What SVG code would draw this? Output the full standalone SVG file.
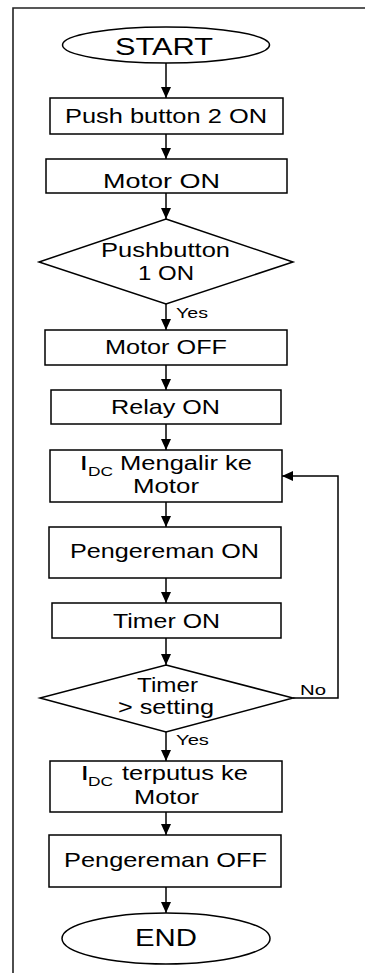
<svg xmlns="http://www.w3.org/2000/svg" width="365" height="973" viewBox="0 0 365 973">
<style>
.s{fill:#fff;stroke:#000;stroke-width:1.5}
.t{font-family:"Liberation Sans",Arial,sans-serif;font-size:21px;fill:#000}
.m{font-family:"Liberation Sans",Arial,sans-serif;font-size:20px;fill:#000}
.e{font-family:"Liberation Sans",Arial,sans-serif;font-size:23px;fill:#000}
.l{font-family:"Liberation Sans",Arial,sans-serif;font-size:15px;fill:#000}
.sub{font-family:"Liberation Sans",Arial,sans-serif;font-size:13px;fill:#000}
.b{font-family:"Liberation Sans",Arial,sans-serif;font-size:20px;font-weight:bold;fill:#000}
.c{fill:none;stroke:#000;stroke-width:1.5}
</style>
<defs>
<marker id="ah" markerUnits="userSpaceOnUse" markerWidth="12" markerHeight="10" refX="11" refY="5" orient="auto">
<path d="M0,0 L11,5 L0,10 Z" fill="#000"/>
</marker>
</defs>
<rect width="365" height="973" fill="#fff"/>
<path d="M13,973 V8 H365" fill="none" stroke="#222" stroke-width="1.6"/>

<g id="connectors">
<path class="c" d="M166,63 V98" marker-end="url(#ah)"/>
<path class="c" d="M166,134 V159" marker-end="url(#ah)"/>
<path class="c" d="M166,193 V219" marker-end="url(#ah)"/>
<path class="c" d="M166,304 V330" marker-end="url(#ah)"/>
<path class="c" d="M166,365 V390" marker-end="url(#ah)"/>
<path class="c" d="M166,424 V450" marker-end="url(#ah)"/>
<path class="c" d="M166,502 V527" marker-end="url(#ah)"/>
<path class="c" d="M166,578 V603" marker-end="url(#ah)"/>
<path class="c" d="M166,638 V665" marker-end="url(#ah)"/>
<path class="c" d="M166,732 V761" marker-end="url(#ah)"/>
<path class="c" d="M166,812 V835" marker-end="url(#ah)"/>
<path class="c" d="M166,887 V913" marker-end="url(#ah)"/>
<path class="c" d="M293,698 H338 V476 H282" marker-end="url(#ah)"/>
<text class="l" x="176" y="318" textLength="32" lengthAdjust="spacingAndGlyphs">Yes</text>
<text class="l" x="176" y="745" textLength="33" lengthAdjust="spacingAndGlyphs">Yes</text>
<text class="l" x="300" y="695" textLength="26" lengthAdjust="spacingAndGlyphs">No</text>
</g>

<g id="start">
<ellipse class="s" cx="166" cy="45" rx="103.5" ry="18"/>
<text class="e" x="115" y="55" textLength="98" lengthAdjust="spacingAndGlyphs">START</text>
</g>
<g id="pb2">
<rect class="s" x="50" y="98" width="233" height="36"/>
<text class="t" x="65" y="123" textLength="202" lengthAdjust="spacingAndGlyphs">Push button 2 ON</text>
</g>
<g id="motoron">
<rect class="s" x="46" y="159" width="241" height="34"/>
<text class="t" x="103" y="188" textLength="117" lengthAdjust="spacingAndGlyphs">Motor ON</text>
</g>
<g id="pb1">
<polygon class="s" points="166,219 293,262 166,304 39,262"/>
<text class="m" x="101" y="257" textLength="129" lengthAdjust="spacingAndGlyphs">Pushbutton</text>
<text class="m" x="138" y="280" textLength="56" lengthAdjust="spacingAndGlyphs">1 ON</text>
</g>
<g id="motoroff">
<rect class="s" x="45" y="330" width="242" height="35"/>
<text class="t" x="105" y="354" textLength="122" lengthAdjust="spacingAndGlyphs">Motor OFF</text>
</g>
<g id="relay">
<rect class="s" x="51" y="390" width="230" height="34"/>
<text class="t" x="111" y="414" textLength="109" lengthAdjust="spacingAndGlyphs">Relay ON</text>
</g>
<g id="idc1">
<rect class="s" x="50" y="450" width="232" height="52"/>
<text class="b" x="81" y="470">I</text>
<text class="sub" x="88" y="476" textLength="25" lengthAdjust="spacingAndGlyphs">DC</text>
<text class="m" x="120" y="470" textLength="132" lengthAdjust="spacingAndGlyphs">Mengalir ke</text>
<text class="m" x="133" y="493" textLength="66" lengthAdjust="spacingAndGlyphs">Motor</text>
</g>
<g id="pengon">
<rect class="s" x="49" y="527" width="232" height="51"/>
<text class="t" x="70" y="558" textLength="189" lengthAdjust="spacingAndGlyphs">Pengereman ON</text>
</g>
<g id="timeron">
<rect class="s" x="52" y="603" width="229" height="35"/>
<text class="t" x="113" y="628" textLength="107" lengthAdjust="spacingAndGlyphs">Timer ON</text>
</g>
<g id="timerdec">
<polygon class="s" points="166,665 293,698 166,732 40,698"/>
<text class="m" x="137" y="692" textLength="61" lengthAdjust="spacingAndGlyphs">Timer</text>
<text class="m" x="118" y="714" textLength="96" lengthAdjust="spacingAndGlyphs">&gt; setting</text>
</g>
<g id="idc2">
<rect class="s" x="50" y="761" width="232" height="51"/>
<text class="b" x="82" y="780">I</text>
<text class="sub" x="88" y="786" textLength="25" lengthAdjust="spacingAndGlyphs">DC</text>
<text class="m" x="122" y="780" textLength="126" lengthAdjust="spacingAndGlyphs">terputus ke</text>
<text class="m" x="134" y="804" textLength="65" lengthAdjust="spacingAndGlyphs">Motor</text>
</g>
<g id="pengoff">
<rect class="s" x="49" y="835" width="232" height="52"/>
<text class="t" x="64" y="867" textLength="203" lengthAdjust="spacingAndGlyphs">Pengereman OFF</text>
</g>
<g id="end">
<ellipse class="s" cx="166" cy="938.5" rx="104" ry="25.5"/>
<text class="e" x="135" y="946" textLength="62" lengthAdjust="spacingAndGlyphs">END</text>
</g>
</svg>
